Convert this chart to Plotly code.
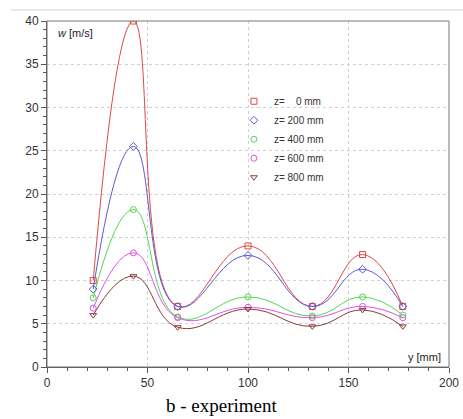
import plotly.graph_objects as go

y_mm = [23, 43, 65, 100, 132, 157, 177]
w_z0 = [10.0, 40.0, 7.0, 14.0, 7.0, 13.0, 7.0]
w_z200 = [9.0, 25.5, 7.0, 12.9, 7.0, 11.3, 7.0]
w_z400 = [8.0, 18.2, 5.8, 8.1, 5.9, 8.1, 6.0]
w_z600 = [6.8, 13.2, 5.7, 6.9, 5.7, 7.0, 5.7]
w_z800 = [6.0, 10.5, 4.6, 6.7, 4.7, 6.6, 4.7]

series = [
    ("z=    0 mm", w_z0, "#e04848", "square-open"),
    ("z= 200 mm", w_z200, "#5a5ad0", "diamond-open"),
    ("z= 400 mm", w_z400, "#50d850", "circle-open"),
    ("z= 600 mm", w_z600, "#e050e0", "circle-open"),
    ("z= 800 mm", w_z800, "#8a3a3a", "triangle-down-open"),
]

fig = go.Figure()
for name, vals, col, sym in series:
    fig.add_trace(go.Scatter(
        x=y_mm, y=vals, mode="lines", showlegend=False, hoverinfo="skip",
        line=dict(color=col, width=1, shape="spline", smoothing=1.3),
    ))
for name, vals, col, sym in series:
    fig.add_trace(go.Scatter(
        x=y_mm, y=vals, name=name, mode="markers",
        marker=dict(symbol=sym, size=6, color=col, line=dict(width=1, color=col)),
    ))

axis_common = dict(
    showline=True, linecolor="#555", linewidth=1, mirror=False,
    ticks="outside", ticklen=5, tickcolor="#555",
    showgrid=True, gridcolor="#d0d0d0", griddash="dot", gridwidth=1,
    zeroline=False, automargin=False,
    tickfont=dict(family="Liberation Sans, Arial", size=12, color="#333"),
)

fig.update_xaxes(range=[0, 200], dtick=50, minor=dict(dtick=10, ticks="outside", ticklen=3, tickcolor="#555", showgrid=False), **axis_common)
fig.update_yaxes(range=[0, 40], dtick=5, minor=dict(dtick=1, ticks="outside", ticklen=3, tickcolor="#555", showgrid=False), **axis_common)

fig.update_layout(
    width=463, height=419,
    margin=dict(l=47, r=14, t=21, b=52, autoexpand=False),
    plot_bgcolor="white", paper_bgcolor="white",
    showlegend=True,
    legend=dict(x=0.465, y=0.81, xanchor="left", yanchor="top", bgcolor="rgba(0,0,0,0)",
                font=dict(family="Liberation Sans, Arial", size=10, color="#333"),
                tracegroupgap=0, itemwidth=30),
    shapes=[
        dict(type="rect", xref="paper", yref="paper", x0=0, x1=1, y0=0, y1=1,
             line=dict(color="#777", width=1)),
        dict(type="line", xref="paper", yref="paper", x0=-0.09, x1=1.04, y0=1.032, y1=1.032,
             line=dict(color="#d0d0d0", width=1)),
    ],
    annotations=[
        dict(text="<i>w</i> [m/s]", xref="paper", yref="paper", x=0.022, y=0.965,
             xanchor="left", yanchor="middle", showarrow=False,
             font=dict(family="Liberation Sans, Arial", size=11, color="#222")),
        dict(text="y [mm]", xref="paper", yref="paper", x=0.985, y=0.03,
             xanchor="right", yanchor="middle", showarrow=False,
             font=dict(family="Liberation Sans, Arial", size=11, color="#222")),
        dict(text="b - experiment", xref="paper", yref="paper", x=0.435, y=-0.112,
             xanchor="center", yanchor="middle", showarrow=False,
             font=dict(family="Liberation Serif, Times New Roman", size=19, color="#000")),
    ],
)

fig.write_html(
    "out.html",
    config={"responsive": False},
    post_script="document.documentElement.style.overflow='hidden';document.body.style.overflow='hidden';document.body.style.margin='0';",
)
